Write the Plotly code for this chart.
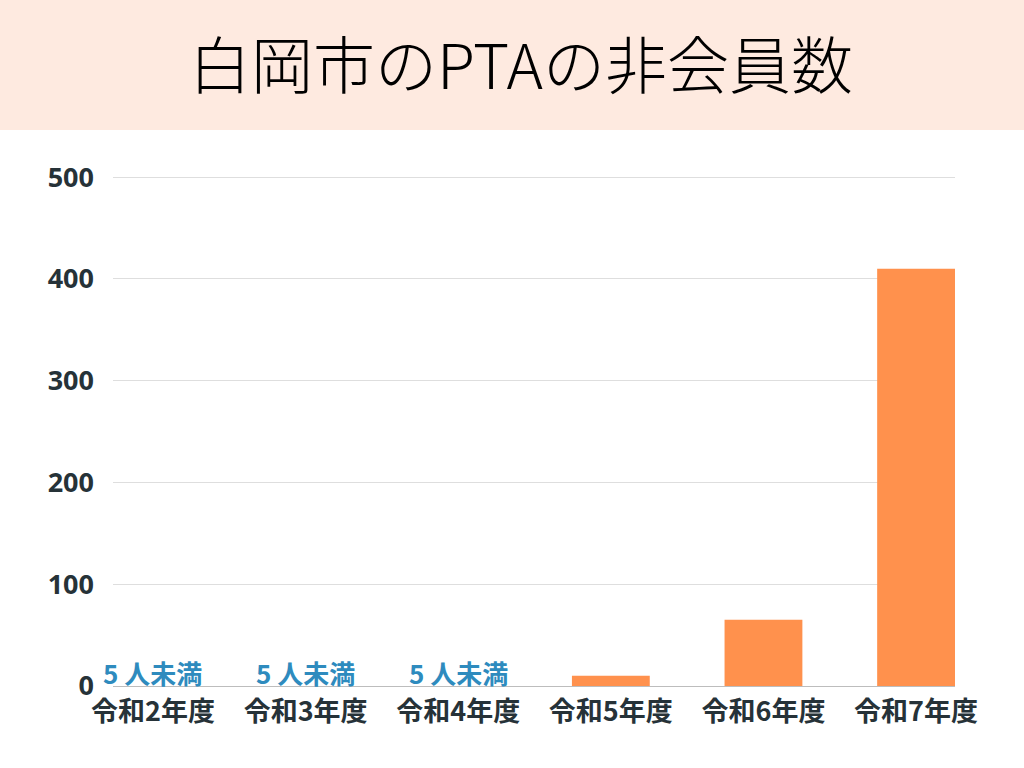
import plotly.graph_objects as go

categories = ["令和2年度", "令和3年度", "令和4年度", "令和5年度", "令和6年度", "令和7年度"]
values = [0, 0, 0, 10, 65, 410]
notes = ["5 人未満", "5 人未満", "5 人未満", "", "", ""]
y_ticks = [0, 100, 200, 300, 400, 500]
title_text = "白岡市のPTAの非会員数"

BAR = "#FF914D"
NOTE = "#2E8BBE"
DARK = "#263238"

PLOT_H = 686 - 174

fig = go.Figure()
fig.add_trace(go.Bar(
    x=list(range(len(categories))), y=values,
    marker=dict(color=BAR, line=dict(width=0)),
    width=0.51, hoverinfo="skip",
))

for i, t in enumerate(notes):
    if t:
        fig.add_annotation(x=i, y=0, text=t, showarrow=False, yanchor="bottom",
                           yshift=-7,
                           font=dict(family="Noto Sans CJK JP", size=26, color=NOTE, weight="bold"))

fig.add_shape(type="rect", xref="paper", yref="paper", x0=-0.2, x1=1.2,
              y0=(686 - 130) / PLOT_H, y1=1.5, fillcolor="#FEEAE0", line=dict(width=0),
              layer="below")

fig.add_annotation(xref="paper", yref="paper", x=(521 - 113) / 842, y=(686 - 62) / PLOT_H,
                   text=title_text, showarrow=False, xanchor="center", yanchor="middle",
                   font=dict(family="Noto Sans CJK JP", size=62, color="#000000", weight=300))

fig.update_layout(
    width=1024, height=768,
    margin=dict(l=113, r=69, t=174, b=82),
    paper_bgcolor="white", plot_bgcolor="white",
    showlegend=False,
    xaxis=dict(
        range=[-0.262, 5.255],
        tickmode="array", tickvals=list(range(len(categories))), ticktext=categories,
        tickfont=dict(family="Noto Sans CJK JP", size=27, color=DARK, weight="bold"),
        showgrid=False, zeroline=False, showline=False, ticks="",
        ticklabelstandoff=7,
    ),
    yaxis=dict(
        range=[0, 503], tickmode="array", tickvals=y_ticks,
        ticktext=[str(v) for v in y_ticks],
        tickfont=dict(family="Noto Sans", size=27, color=DARK, weight="bold"),
        showgrid=True, gridcolor="#DEDEDE", gridwidth=1,
        zeroline=True, zerolinecolor="#BDBDBD", zerolinewidth=1,
        showline=False, ticks="", ticklabelstandoff=18,
    ),
)

fig.write_html("out.html", config={"displayModeBar": False},
               post_script="document.body.style.margin='0';")
